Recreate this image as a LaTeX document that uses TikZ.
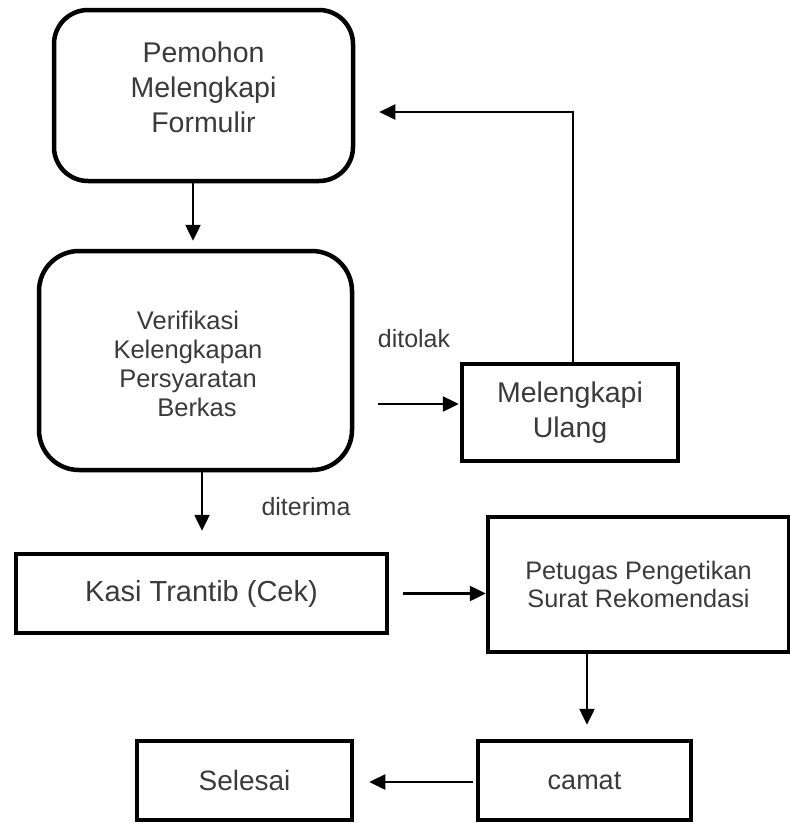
\documentclass[tikz,border=0pt]{standalone}
\usepackage{fontspec}
\setmainfont{Liberation Sans}
\usetikzlibrary{arrows.meta}
\definecolor{txt}{HTML}{3A3A3A}
\begin{document}
\begin{tikzpicture}[x=1pt,y=-1pt,
  box/.style={draw=black, line width=4.5pt, inner sep=0pt, text=txt, align=center},
  rbox/.style={box, rounded corners=36pt},
  arr/.style={line width=2.5pt, -{Triangle[length=16pt,width=15pt]}},
  lbl/.style={text=txt, font=\fontsize{25}{30}\selectfont, inner sep=0pt}]
\useasboundingbox (0,0) rectangle (790,823);
\node[rbox, rounded corners=34pt, minimum width=299pt, minimum height=171pt,
  label={[text=txt,align=center,font=\fontsize{28.5}{35}\selectfont,yshift=8.5pt]center:Pemohon\\Melengkapi\\Formulir}] (b1) at (203.5,95.5) {};
\node[rbox, rounded corners=40pt, minimum width=313pt, minimum height=219pt,
  label={[text=txt,align=center,font=\fontsize{25.5}{29}\selectfont,xshift=-7.5pt,yshift=-3pt]center:Verifikasi\\Kelengkapan\\Persyaratan\\\hspace*{18pt}Berkas}] (b2) at (195.5,360.5) {};
\node[box, minimum width=216pt, minimum height=97pt, font=\fontsize{28.5}{35}\selectfont] (mu) at (570,412.5) {Melengkapi\\Ulang};
\node[box, minimum width=371pt, minimum height=79pt, font=\fontsize{29}{32}\selectfont] (ks) at (201.5,593.5) {Kasi Trantib (Cek)};
\node[box, minimum width=301pt, minimum height=135pt, font=\fontsize{25.3}{28}\selectfont] (pt) at (638.5,584.5) {Petugas Pengetikan\\Surat Rekomendasi};
\node[box, minimum width=213pt, minimum height=79pt, font=\fontsize{27}{31}\selectfont] (cm) at (584.5,780.5) {camat};
\node[box, minimum width=215pt, minimum height=79pt, font=\fontsize{28}{33}\selectfont] (sl) at (244.5,780.5) {Selesai};
\node[lbl] (dtl) at (414,339) {ditolak};
\node[lbl] (dtr) at (306,507) {diterima};
\draw[arr, shorten >=8pt] ([xshift=-10.5pt]b1.south) -- ([xshift=-2.5pt]b2.north);
\draw[arr, shorten <=24pt, shorten >=1pt] ([yshift=-43.5pt]b2.east) -- ([yshift=8.5pt]mu.west);
\draw[arr, line width=2pt, shorten >=24pt] ([xshift=3pt]mu.north) |- ([yshift=-16.5pt]b1.east);
\draw[arr, shorten >=21pt] ([xshift=6.5pt]b2.south) -- ([xshift=0.5pt]ks.north);
\draw[arr, shorten <=14pt] (ks.east) -- ([yshift=-9pt]pt.west);
\draw[arr, shorten >=14pt] ([xshift=-51.5pt]pt.south) -- ([xshift=2.5pt]cm.north);
\draw[arr, shorten <=3pt, shorten >=15pt] ([yshift=-1.5pt]cm.west) -- ([yshift=-1.5pt]sl.east);
\end{tikzpicture}
\end{document}
